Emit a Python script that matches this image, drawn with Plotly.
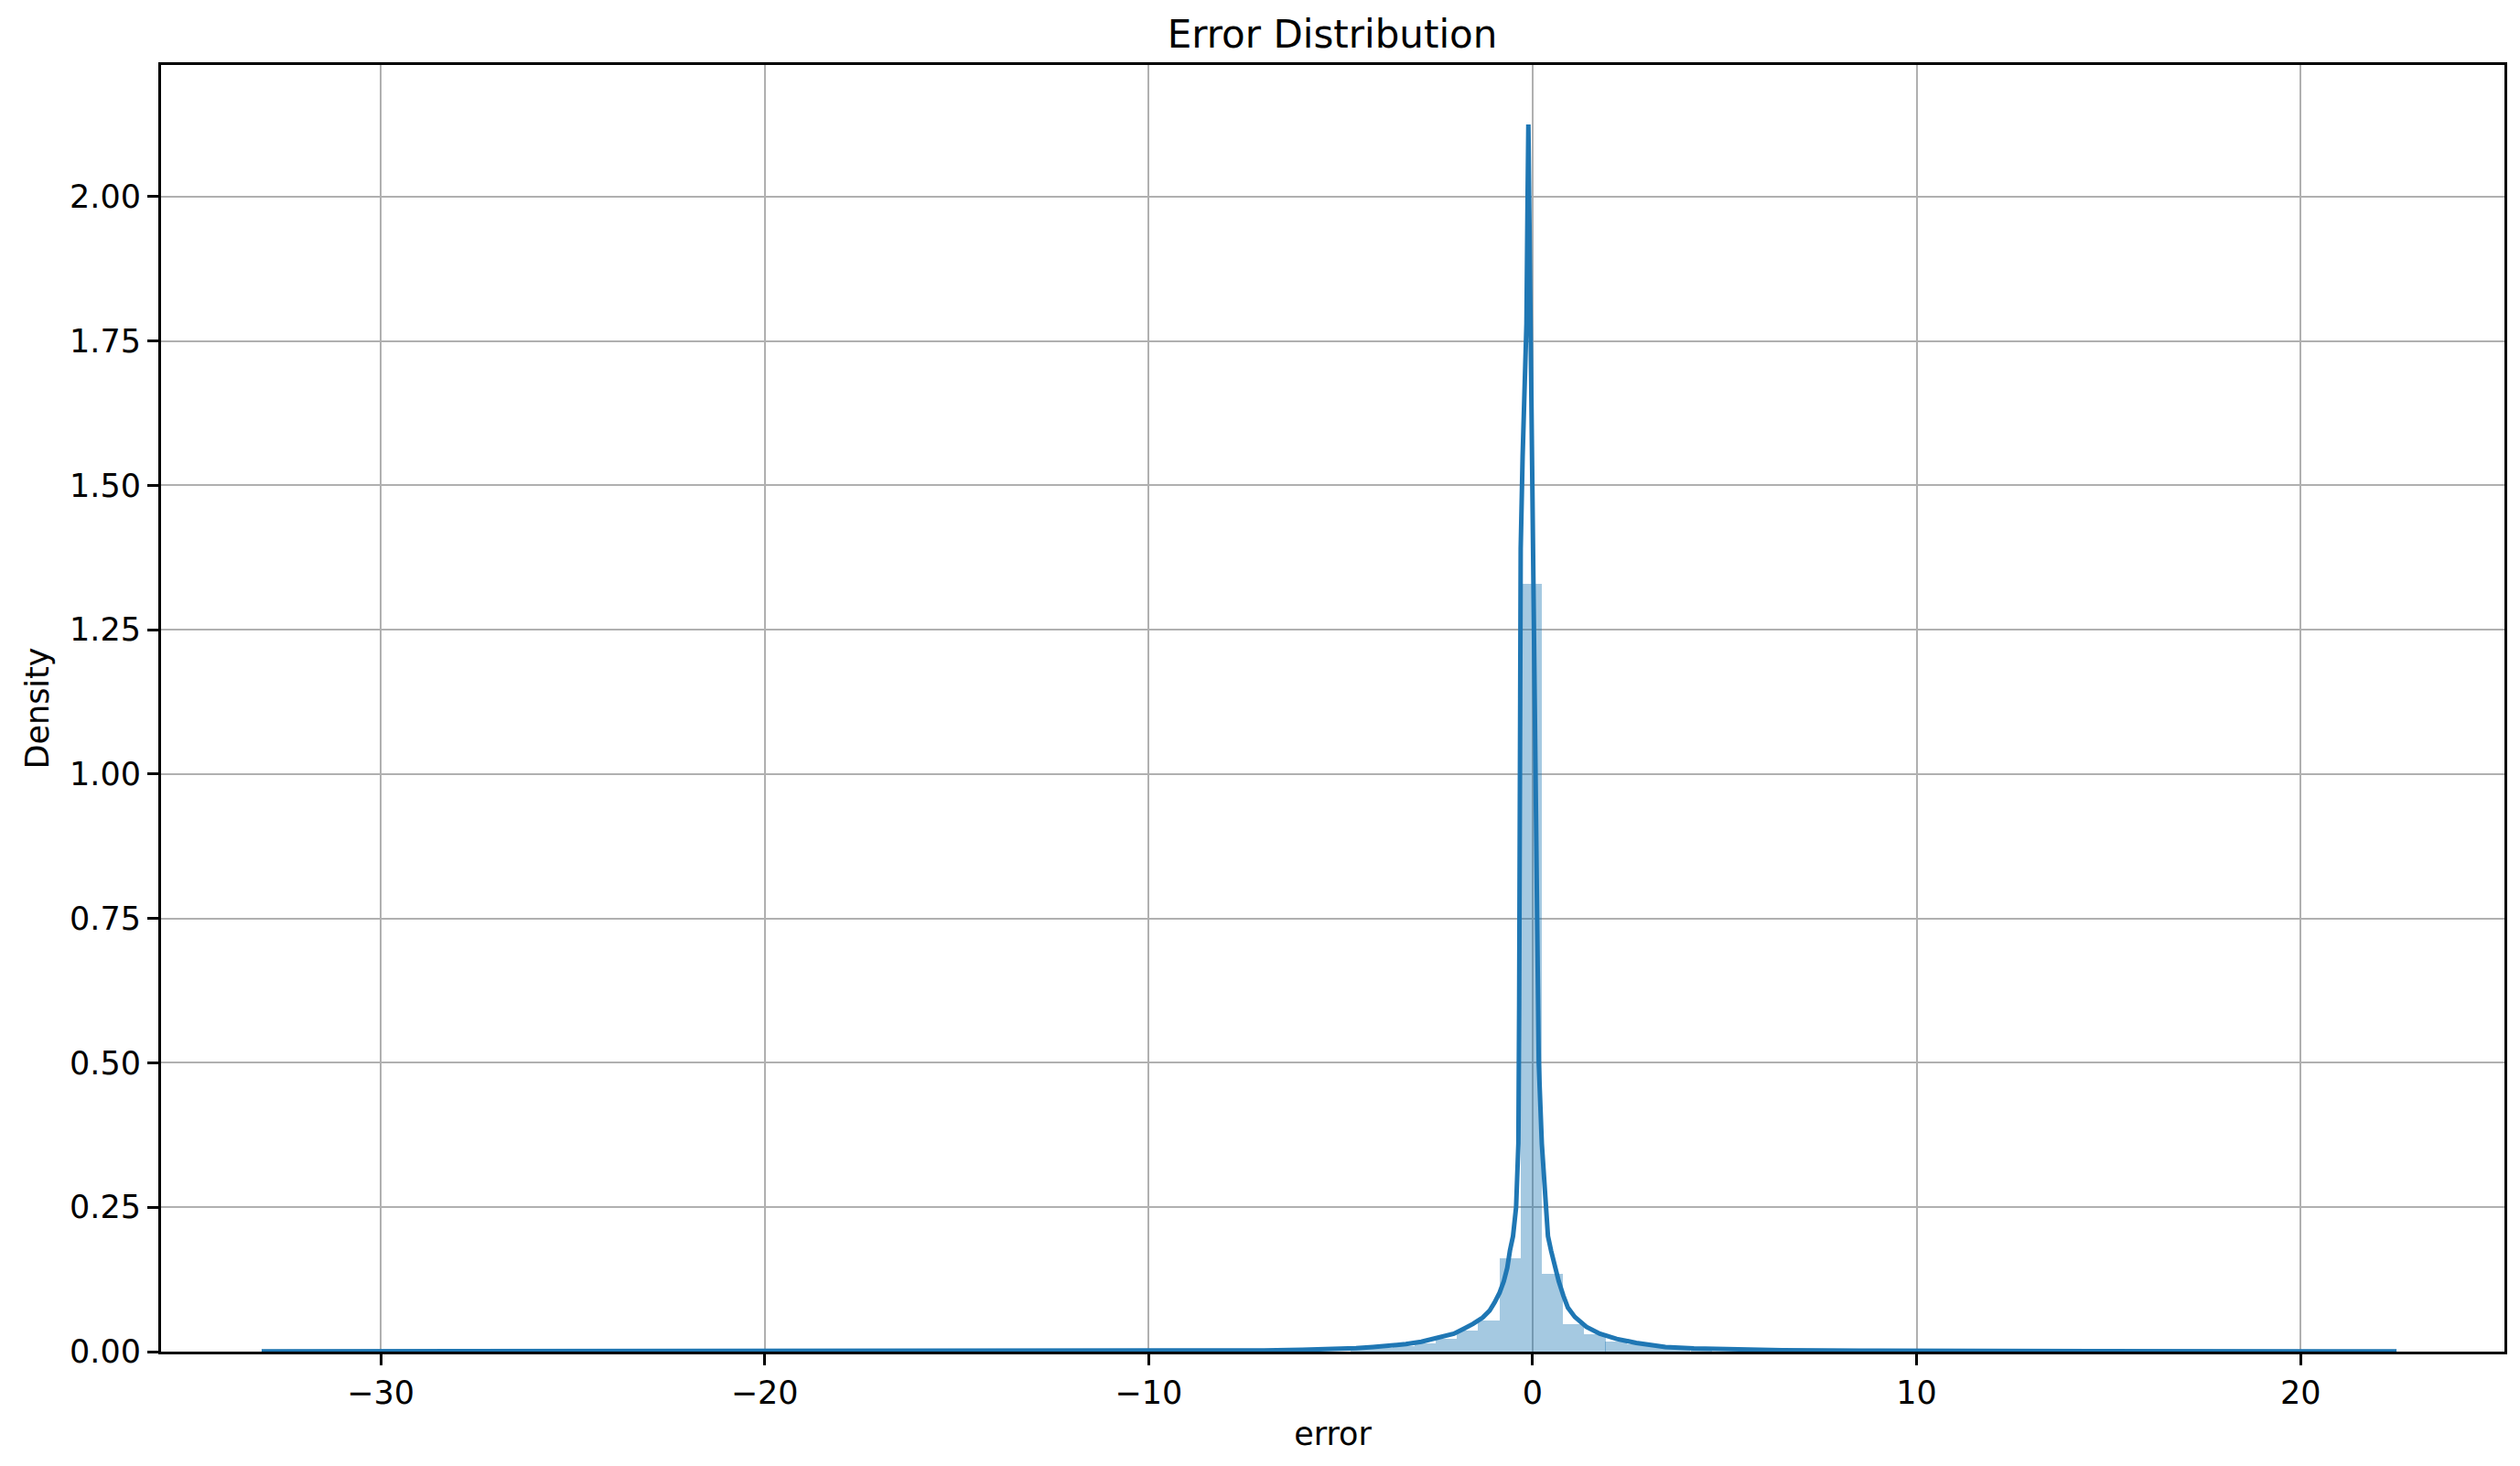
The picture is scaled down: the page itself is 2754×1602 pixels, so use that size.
import plotly.graph_objects as go

# histogram (density): bin centres and heights
bin_centers = [-4.46, -3.91, -3.36, -2.80, -2.25, -1.70, -1.14, -0.59, -0.04,
               0.52, 1.07, 1.62, 2.17, 2.73, 3.28, 3.83, 4.39]
bin_density = [0.005, 0.007, 0.010, 0.014, 0.022, 0.036, 0.054, 0.162, 1.33,
               0.135, 0.048, 0.030, 0.018, 0.012, 0.009, 0.006, 0.005]
bin_width = 0.553

# kde curve
kde_x = [-33.1, -25.0, -18.0, -12.0, -9.0, -7.0, -6.0, -5.0, -4.6, -4.16, -3.7,
         -3.3, -2.9, -2.57, -2.3, -2.05, -1.78, -1.55, -1.30, -1.12, -0.99, -0.86,
         -0.75, -0.66, -0.59, -0.51, -0.43, -0.37, -0.35, -0.33,
         -0.31, -0.26, -0.16, -0.13, -0.11, -0.09, -0.05, -0.02, 0.01, 0.07,
         0.12, 0.16, 0.24, 0.30, 0.36, 0.40, 0.48, 0.58, 0.68, 0.80, 0.92, 1.1,
         1.40, 1.75, 2.19, 2.7, 3.46, 4.2, 5.0, 6.5, 9.0, 14.0, 22.5]
kde_y = [0.0004, 0.0005, 0.0007, 0.0010, 0.0013, 0.0020, 0.0030, 0.0045, 0.0060, 0.008, 0.010,
         0.013, 0.017, 0.022, 0.026, 0.031, 0.040, 0.048, 0.059, 0.071, 0.085, 0.102,
         0.122, 0.145, 0.175, 0.20, 0.25, 0.36, 0.60, 1.0,
         1.39, 1.55, 1.78, 2.0, 2.125, 2.0, 1.78, 1.55, 1.39, 1.0,
         0.70, 0.50, 0.36, 0.295, 0.25, 0.20, 0.175, 0.146, 0.122, 0.097, 0.076, 0.060,
         0.043, 0.031, 0.022, 0.015, 0.008, 0.0055, 0.0040, 0.0025, 0.0014, 0.0008, 0.0004]

x_ticks = [-30, -20, -10, 0, 10, 20]
y_ticks = [0.0, 0.25, 0.5, 0.75, 1.0, 1.25, 1.5, 1.75, 2.0]

blue = "#1f77b4"
font = "DejaVu Sans"

fig = go.Figure()
fig.add_trace(go.Bar(
    x=bin_centers, y=bin_density, width=bin_width,
    marker=dict(color="rgba(31,119,180,0.4)", line=dict(width=0)),
    showlegend=False, hoverinfo="x+y",
))
fig.add_trace(go.Scatter(
    x=kde_x, y=kde_y, mode="lines",
    line=dict(color=blue, width=5),
    showlegend=False,
))

axis_common = dict(
    showline=True, linecolor="black", linewidth=3, mirror=True,
    showgrid=True, gridcolor="#b0b0b0", gridwidth=2,
    ticks="outside", ticklen=12, tickwidth=3, tickcolor="black",
    tickfont=dict(family=font, size=35, color="black"),
    zeroline=False, layer="above traces",
)

# the page body adds ~8px offset, so margins are shifted to compensate
fig.update_layout(
    width=2754, height=1602,
    margin=dict(l=168, r=25, t=63, b=133),
    paper_bgcolor="white", plot_bgcolor="white",
    bargap=0,
    font=dict(family=font, color="black"),
    title=dict(text="Error Distribution", x=0.5258, xanchor="center",
               y=1 - 29 / 1602, yanchor="middle",
               font=dict(family=font, size=42, color="black")),
    xaxis=dict(range=[-35.72, 25.31], tickvals=x_ticks,
               title=dict(text="error", font=dict(family=font, size=35), standoff=14),
               **axis_common),
    yaxis=dict(range=[0, 2.228], tickvals=y_ticks, tickformat=".2f",
               title=dict(text="Density", font=dict(family=font, size=35), standoff=12),
               **axis_common),
)

fig.write_html("out.html")
